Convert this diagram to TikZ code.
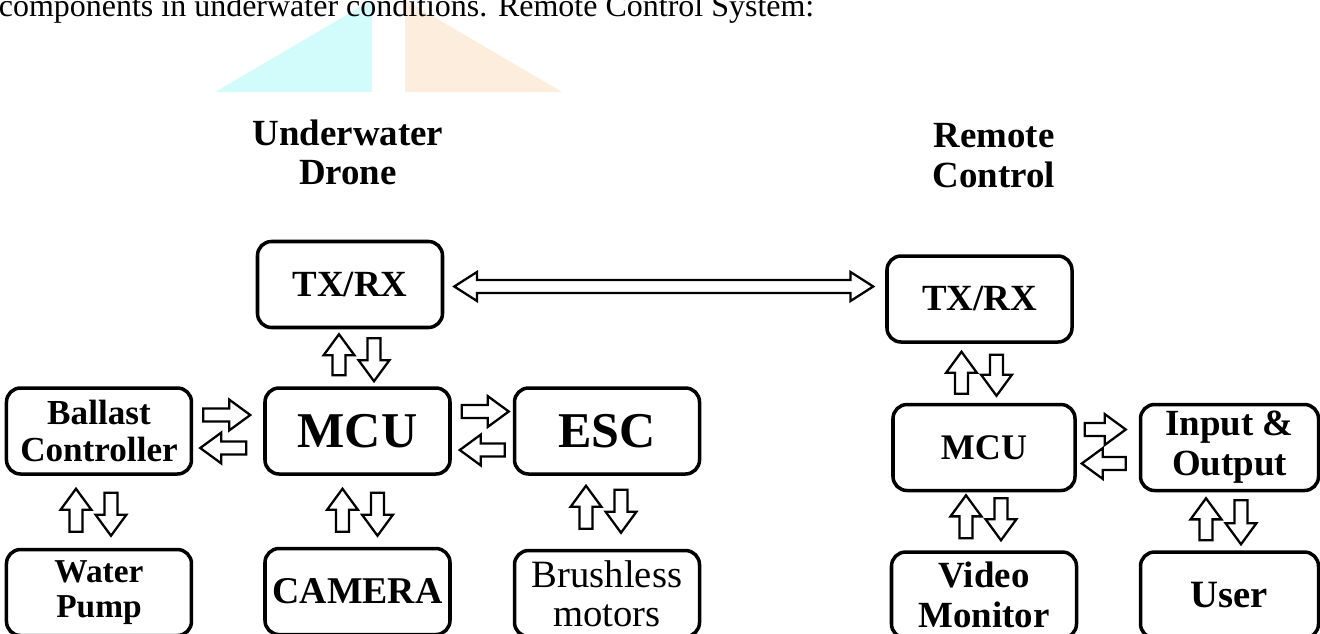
\documentclass[tikz,border=0pt]{standalone}
\usepackage{fontspec}
\setmainfont{Liberation Serif}
\usepackage{tikz}
\usetikzlibrary{positioning,calc}
\definecolor{wcyan}{HTML}{D2FCFC}
\definecolor{worange}{HTML}{FDEDDC}
\newcommand{\arsh}{3.7pt}
\newcommand{\arhw}{8.8pt}
\newcommand{\arhl}{12pt}

\begin{document}
\begin{tikzpicture}[
    box/.style={draw,line width=2pt,rounded corners=8pt,
      minimum width=3.7cm,minimum height=1.72cm,align=center,inner sep=2pt},
    txt/.style={font=\bfseries\fontsize{21}{23}\selectfont},
    bigtxt/.style={font=\bfseries\fontsize{28.5}{30}\selectfont},
    hollow/.style={draw,fill=white,line width=1.3pt,line join=miter},
    vblk/.style={hollow,to path={let \p1=(\tikztostart),\p2=(\tikztotarget),
      \p3=($(\x1,\y2)!\arhl!(\x1,\y1)$) in
      ({\x1-\arsh},\y1) -- ({\x1-\arsh},\y3) -- ({\x1-\arhw},\y3) -- (\x1,\y2)
      -- ({\x1+\arhw},\y3) -- ({\x1+\arsh},\y3) -- ({\x1+\arsh},\y1) -- cycle}},
    hblk/.style={hollow,to path={let \p1=(\tikztostart),\p2=(\tikztotarget),
      \p3=($(\x2,\y1)!\arhl!(\x1,\y1)$) in
      (\x1,{\y1+\arsh}) -- (\x3,{\y1+\arsh}) -- (\x3,{\y1+\arhw}) -- (\x2,\y1)
      -- (\x3,{\y1-\arhw}) -- (\x3,{\y1-\arsh}) -- (\x1,{\y1-\arsh}) -- cycle}},
    dblk/.style={hollow,to path={let \p1=(\tikztostart),\p2=(\tikztotarget),
      \p3=($(\x2,\y1)!13pt!(\x1,\y1)$),\p4=($(\x1,\y1)!13pt!(\x2,\y1)$) in
      (\x1,\y1) -- (\x4,{\y1+8.3pt}) -- (\x4,{\y1+\arsh}) -- (\x3,{\y1+\arsh})
      -- (\x3,{\y1+8.3pt}) -- (\x2,\y1) -- (\x3,{\y1-8.3pt}) -- (\x3,{\y1-\arsh})
      -- (\x4,{\y1-\arsh}) -- (\x4,{\y1-8.3pt}) -- cycle}}
  ]
  \useasboundingbox (0,0) rectangle (26.4,-12.66);

  % watermark and caption line
  \fill[wcyan] (4.30,-1.84) -- (7.44,-1.84) -- (7.44,0) -- cycle;
  \fill[worange] (8.10,0) -- (8.10,-1.84) -- (11.24,-1.84) -- cycle;
  \node[anchor=base west,inner sep=0,font=\fontsize{18.2}{20}\selectfont] (cap) at (-0.03,-0.32)
    {components in underwater conditions. Remote Control System:};

  \node[align=center,font=\bfseries\fontsize{21}{22.3}\selectfont] (dtitle) at (6.96,-3.04) {Underwater\\Drone};
  \node[align=center,font=\bfseries\fontsize{21}{22.8}\selectfont] (rtitle) at (19.88,-3.12) {Remote\\Control};

  % drone
  \node[box,bigtxt] (dmcu) at (7.15,-8.62) {MCU};
  \node[box,txt,above=1.14 of dmcu,xshift=-0.15cm] (dtx) {TX/RX};
  \node[box,left=1.40 of dmcu,font=\bfseries\fontsize{20}{21}\selectfont] (ballast) {Ballast\\Controller};
  \node[box,bigtxt,right=1.22 of dmcu] (esc) {ESC};
  \node[box,below=1.42 of dmcu,font=\bfseries\fontsize{21.5}{23}\selectfont] (camera) {CAMERA};
  \node[box,below=1.44 of ballast,font=\bfseries\fontsize{19}{19.5}\selectfont] (pump) {Water\\Pump};
  \node[box,below=1.46 of esc,font=\fontsize{22}{22}\selectfont] (motors) {Brushless\\motors};

  % remote
  \node[box,txt] (rtx) at (19.59,-5.98) {TX/RX};
  \node[box,below=1.18 of rtx,xshift=0.09cm,minimum width=3.64cm,
        font=\bfseries\fontsize{20.5}{22}\selectfont] (rmcu) {MCU};
  \node[box,right=1.24 of rmcu,minimum width=3.56cm,
        font=\bfseries\fontsize{21}{22.8}\selectfont] (io) {Input \&\\Output};
  \node[box,below=1.16 of rmcu,font=\bfseries\fontsize{21}{22.8}\selectfont] (video) {Video\\Monitor};
  \node[box,below=1.16 of io,minimum width=3.56cm,font=\bfseries\fontsize{22}{24}\selectfont] (user) {User};

  % link
  \draw[dblk] ([xshift=0.2cm,yshift=-0.04cm]dtx.east) to ([xshift=-0.24cm]rtx.west);

  % up / down pairs
  \draw[vblk] ([xshift=-0.37cm,yshift=0.22cm]dmcu.north) to ([yshift=-0.10cm]dtx.south);
  \draw[vblk] ([xshift=0.48cm,yshift=-0.18cm]dtx.south) to ([yshift=0.10cm]dmcu.north);
  \draw[vblk] ([xshift=-0.46cm,yshift=0.32cm]pump.north) to ([yshift=-0.26cm]ballast.south);
  \draw[vblk] ([xshift=0.24cm,yshift=-0.34cm]ballast.south) to ([yshift=0.24cm]pump.north);
  \draw[vblk] ([xshift=-0.30cm,yshift=0.30cm]camera.north) to ([yshift=-0.26cm]dmcu.south);
  \draw[vblk] ([xshift=0.40cm,yshift=-0.34cm]dmcu.south) to ([yshift=0.22cm]camera.north);
  \draw[vblk] ([xshift=-0.42cm,yshift=0.40cm]motors.north) to ([yshift=-0.20cm]esc.south);
  \draw[vblk] ([xshift=0.28cm,yshift=-0.28cm]esc.south) to ([yshift=0.32cm]motors.north);
  \draw[vblk] ([xshift=-0.45cm,yshift=0.18cm]rmcu.north) to ([yshift=-0.16cm]rtx.south);
  \draw[vblk] ([xshift=0.34cm,yshift=-0.22cm]rtx.south) to ([yshift=0.14cm]rmcu.north);
  \draw[vblk] ([xshift=-0.36cm,yshift=0.24cm]video.north) to ([yshift=-0.06cm]rmcu.south);
  \draw[vblk] ([xshift=0.34cm,yshift=-0.12cm]rmcu.south) to ([yshift=0.20cm]video.north);
  \draw[vblk] ([xshift=-0.47cm,yshift=0.20cm]user.north) to ([yshift=-0.12cm]io.south);
  \draw[vblk] ([xshift=0.23cm,yshift=-0.16cm]io.south) to ([yshift=0.12cm]user.north);

  % left / right pairs
  \draw[hblk] ([xshift=0.20cm,yshift=0.32cm]ballast.east) to ([xshift=-0.26cm]dmcu.west);
  \draw[hblk] ([xshift=-0.34cm,yshift=-0.34cm]dmcu.west) to ([xshift=0.14cm]ballast.east);
  \draw[hblk] ([xshift=0.20cm,yshift=0.39cm]dmcu.east) to ([xshift=-0.08cm]esc.west);
  \draw[hblk] ([xshift=-0.16cm,yshift=-0.38cm]esc.west) to ([xshift=0.16cm]dmcu.east);
  \draw[hblk] ([xshift=0.16cm,yshift=0.36cm]rmcu.east) to ([xshift=-0.26cm]io.west);
  \draw[hblk] ([xshift=-0.26cm,yshift=-0.32cm]io.west) to ([xshift=0.10cm]rmcu.east);
\end{tikzpicture}
\end{document}
